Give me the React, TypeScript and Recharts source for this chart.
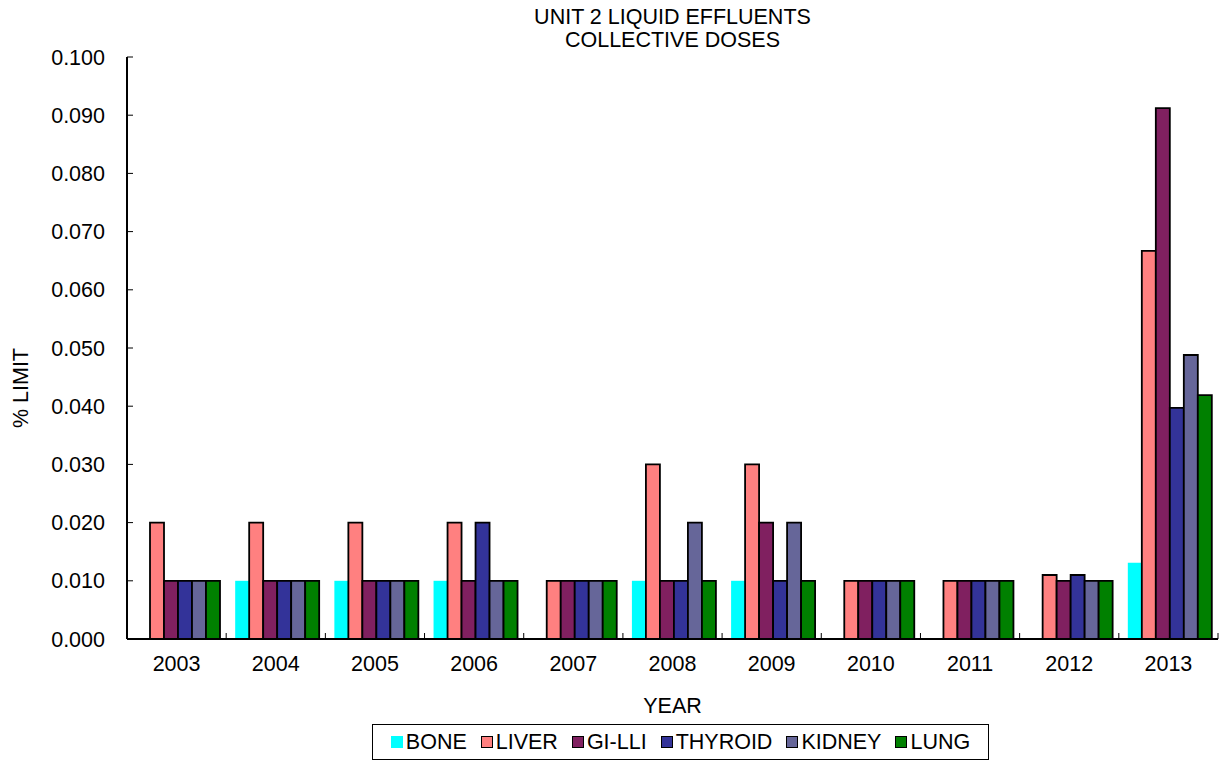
import React from "react";
import { BarChart, Bar, XAxis, YAxis, Legend } from "recharts";

const years = ["2003", "2004", "2005", "2006", "2007", "2008", "2009", "2010", "2011", "2012", "2013"];
const bone = [0, 0.01, 0.01, 0.01, 0, 0.01, 0.01, 0, 0, 0, 0.0131];
const liver = [0.02, 0.02, 0.02, 0.02, 0.01, 0.03, 0.03, 0.01, 0.01, 0.011, 0.0667];
const giLli = [0.01, 0.01, 0.01, 0.01, 0.01, 0.01, 0.02, 0.01, 0.01, 0.01, 0.0912];
const thyroid = [0.01, 0.01, 0.01, 0.02, 0.01, 0.01, 0.01, 0.01, 0.01, 0.011, 0.0397];
const kidney = [0.01, 0.01, 0.01, 0.01, 0.01, 0.02, 0.02, 0.01, 0.01, 0.01, 0.0488];
const lung = [0.01, 0.01, 0.01, 0.01, 0.01, 0.01, 0.01, 0.01, 0.01, 0.01, 0.0419];
const yTicks = [0, 0.01, 0.02, 0.03, 0.04, 0.05, 0.06, 0.07, 0.08, 0.09, 0.1];

const seriesDefs = [
  { key: "BONE", values: bone, color: "#00FFFF", stroke: "none" },
  { key: "LIVER", values: liver, color: "#FF8080", stroke: "#000" },
  { key: "GI-LLI", values: giLli, color: "#802060", stroke: "#000" },
  { key: "THYROID", values: thyroid, color: "#333399", stroke: "#000" },
  { key: "KIDNEY", values: kidney, color: "#666699", stroke: "#000" },
  { key: "LUNG", values: lung, color: "#008000", stroke: "#000" },
];

const data = years.map((y, i) => {
  const row: Record<string, any> = { year: y };
  seriesDefs.forEach((s) => (row[s.key] = s.values[i]));
  return row;
});

const W = 1221;
const H = 761;
const PLOT_LEFT = 127;
const PLOT_RIGHT = 1218;
const PLOT_TOP = 57;
const PLOT_BOTTOM = 639;
const BAND = (PLOT_RIGHT - PLOT_LEFT) / years.length;
const FONT = "'Liberation Sans', Arial, sans-serif";
const FS = 21.5;

const XTick = (props: any) => {
  const { x, payload } = props;
  return (
    <g>
      <text x={x} y={PLOT_BOTTOM + 32} textAnchor="middle" fontSize={FS} fontFamily={FONT} fill="#000">
        {payload.value}
      </text>
      <line x1={x + BAND / 2} x2={x + BAND / 2} y1={PLOT_BOTTOM} y2={PLOT_BOTTOM - 6} stroke="#000" strokeWidth={1} />
    </g>
  );
};

const YTick = (props: any) => {
  const { y, payload } = props;
  return (
    <g>
      <text x={105} y={y + 7.5} textAnchor="end" fontSize={FS} fontFamily={FONT} fill="#000">
        {payload.value.toFixed(3)}
      </text>
      <line x1={PLOT_LEFT} x2={PLOT_LEFT + 6} y1={y} y2={y} stroke="#000" strokeWidth={1} />
    </g>
  );
};

const LegendContent = () => (
  <div
    style={{
      border: "1.5px solid #000",
      boxSizing: "border-box",
      width: 617,
      height: 36,
      display: "flex",
      alignItems: "center",
      justifyContent: "center",
      gap: 14,
      fontFamily: FONT,
      fontSize: FS,
      background: "#fff",
    }}
  >
    {seriesDefs.map((s) => (
      <div key={s.key} style={{ display: "flex", alignItems: "center" }}>
        <span
          style={{
            display: "inline-block",
            width: 10,
            height: 10,
            background: s.color,
            border: s.stroke === "none" ? "1px solid #00FFFF" : "1.5px solid #000",
            marginRight: 3,
          }}
        />
        <span>{s.key}</span>
      </div>
    ))}
  </div>
);

export default function App() {
  return (
    <div style={{ position: "absolute", left: 0, top: 0, width: W, height: H, background: "#fff" }}>
      <div
        style={{
          position: "absolute",
          left: PLOT_LEFT,
          width: PLOT_RIGHT - PLOT_LEFT,
          top: 6,
          textAlign: "center",
          fontFamily: FONT,
          fontSize: FS,
          lineHeight: "23px",
          zIndex: 2,
        }}
      >
        <div>UNIT 2 LIQUID EFFLUENTS</div>
        <div>COLLECTIVE DOSES</div>
      </div>
      <BarChart
        width={W}
        height={H}
        data={data}
        margin={{ top: PLOT_TOP, right: W - PLOT_RIGHT, left: 47, bottom: 82 }}
        barCategoryGap={9}
        barGap={0}
      >
        <XAxis
          dataKey="year"
          xAxisId="main"
          height={40}
          tickLine={false}
          axisLine={{ stroke: "#000", strokeWidth: 2 }}
          tick={<XTick />}
          interval={0}
          label={{ value: "YEAR", position: "bottom", offset: 19, fontSize: FS, fontFamily: FONT, fill: "#000" }}
        />
        <XAxis
          dataKey="year"
          xAxisId="top"
          orientation="top"
          height={0}
          tick={false}
          tickLine={false}
          axisLine={{ stroke: "#000", strokeWidth: 2 }}
        />
        <YAxis
          yAxisId="main"
          width={80}
          domain={[0, 0.1]}
          ticks={yTicks}
          interval={0}
          tickLine={false}
          axisLine={{ stroke: "#000", strokeWidth: 2 }}
          tick={<YTick />}
          label={{ value: "% LIMIT", angle: -90, position: "left", offset: 27, fontSize: FS, fontFamily: FONT, fill: "#000" }}
        />
        <YAxis
          yAxisId="right"
          orientation="right"
          width={0}
          domain={[0, 0.1]}
          tick={false}
          tickLine={false}
          axisLine={{ stroke: "#000", strokeWidth: 2 }}
        />
        <Legend
          verticalAlign="middle"
          align="center"
          content={<LegendContent />}
          wrapperStyle={{ top: 724, left: 372, width: 617, height: 36 }}
        />
        {seriesDefs.map((s) => (
          <Bar
            key={s.key}
            dataKey={s.key}
            xAxisId="main"
            yAxisId="main"
            fill={s.color}
            stroke={s.stroke}
            strokeWidth={s.stroke === "none" ? 0 : 1.8}
            isAnimationActive={false}
          />
        ))}
      </BarChart>
    </div>
  );
}
